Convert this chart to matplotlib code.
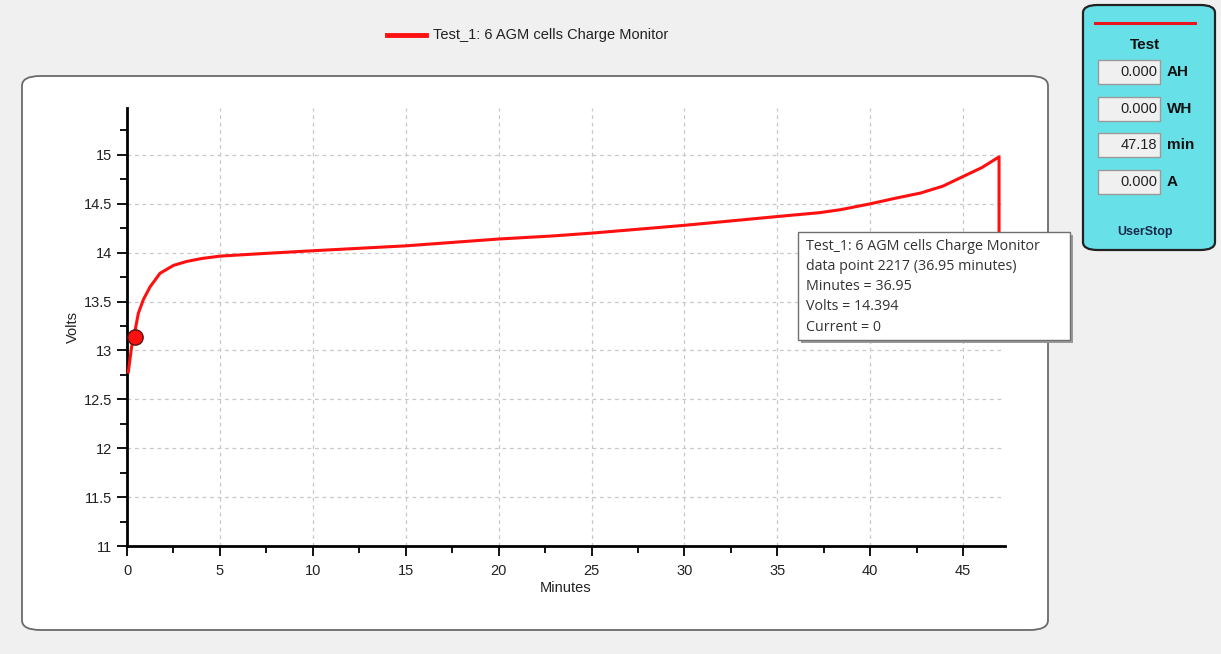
import matplotlib
matplotlib.use("Agg")
import matplotlib.pyplot as plt
from matplotlib.patches import FancyBboxPatch, Rectangle
from matplotlib.ticker import MultipleLocator, FormatStrFormatter
from matplotlib.lines import Line2D

# ---- data ----
minutes = [0.07, 0.25, 0.43, 0.61, 0.88, 1.24, 1.78, 2.5, 3.2, 4.0, 5.0, 7.2, 10.0, 15.0,
           20.0, 22.8, 25.0, 30.0, 35.0, 37.3, 38.4, 40.0, 41.3, 42.7, 43.9, 45.0, 46.0,
           46.93, 46.93]
volts = [12.78, 13.04, 13.2, 13.38, 13.52, 13.65, 13.79, 13.87, 13.91, 13.94, 13.965, 13.99,
         14.02, 14.07, 14.14, 14.17, 14.20, 14.28, 14.37, 14.41, 14.44, 14.50, 14.555, 14.61,
         14.68, 14.78, 14.87, 14.98, 13.4]
marker_min = [0.43]
marker_volts = [13.135]
series_name = "Test_1: 6 AGM cells Charge Monitor"
tooltip_lines = ["Test_1: 6 AGM cells Charge Monitor",
                 "data point 2217 (36.95 minutes)",
                 "Minutes = 36.95",
                 "Volts = 14.394",
                 "Current = 0"]
panel_values = ["0.000", "0.000", "47.18", "0.000"]
panel_units = ["AH", "WH", "min", "A"]

W, H = 1221, 654
fig = plt.figure(figsize=(W / 100, H / 100), dpi=100)
fig.patch.set_facecolor("#f0f0f0")

def fx(px):
    return px / W

def fy(py):
    return 1 - py / H

FONT = ["Liberation Sans", "DejaVu Sans"]
TFONT = ["Open Sans", "DejaVu Sans"]

# white rounded chart panel
panel = FancyBboxPatch((fx(22), fy(630)), fx(1048) - fx(22), fy(76) - fy(630),
                       boxstyle="round,pad=0,rounding_size=0.015", transform=fig.transFigure,
                       facecolor="white", edgecolor="#6a6a6a", linewidth=1.3, zorder=-2)
fig.patches.append(panel)

# right cyan panel
rp = FancyBboxPatch((fx(1083), fy(250)), fx(1215) - fx(1083), fy(5) - fy(250),
                    boxstyle="round,pad=0,rounding_size=0.012", transform=fig.transFigure,
                    facecolor="#68e0e8", edgecolor="#222222", linewidth=1.6, zorder=-2)
fig.patches.append(rp)
fig.lines.append(Line2D([fx(1095), fx(1195)], [fy(23), fy(23)], transform=fig.transFigure,
                        color="#e8141e", linewidth=2.2))
fig.text(fx(1145), fy(45), "Test", ha="center", va="center", fontsize=11, fontweight="bold",
         family=FONT, color="#111111")
field_y = [72, 109, 145, 182]
for yv, val, unit in zip(field_y, panel_values, panel_units):
    r = Rectangle((fx(1098), fy(yv + 12)), fx(1160) - fx(1098), fy(yv - 12) - fy(yv + 12),
                  transform=fig.transFigure, facecolor="#f0f0f0", edgecolor="#9a9a9a",
                  linewidth=1.0)
    fig.patches.append(r)
    fig.text(fx(1157), fy(yv), val, ha="right", va="center", fontsize=10.5, family=FONT,
             color="#222222")
    fig.text(fx(1167), fy(yv), unit, ha="left", va="center", fontsize=11, fontweight="bold",
             family=FONT, color="#111111")
fig.text(fx(1145), fy(232), "UserStop", ha="center", va="center", fontsize=9, fontweight="bold",
         family=FONT, color="#1a2a4a")

# axes
ax = fig.add_axes([fx(127), fy(546), fx(1005) - fx(127), fy(108) - fy(546)])
ax.set_zorder(1)
ax.patch.set_alpha(0)
ax.set_xlim(0, 47.25)
ax.set_ylim(11, 15.48)
ax.xaxis.set_major_locator(MultipleLocator(5))
ax.xaxis.set_minor_locator(MultipleLocator(2.5))
ax.yaxis.set_major_locator(MultipleLocator(0.5))
ax.yaxis.set_minor_locator(MultipleLocator(0.25))
ax.yaxis.set_major_formatter(FormatStrFormatter("%g"))
for s in ["top", "right"]:
    ax.spines[s].set_visible(False)
for s in ["left", "bottom"]:
    ax.spines[s].set_linewidth(2)
    ax.spines[s].set_color("black")
ax.tick_params(which="major", direction="out", length=7, width=1.3, labelsize=10.5,
               colors="black", labelcolor="#222222")
ax.tick_params(axis="x", which="major", pad=6)
ax.tick_params(which="minor", direction="out", length=5, width=1.3, colors="black")
for lab in ax.get_xticklabels() + ax.get_yticklabels():
    lab.set_family(FONT)
ax.grid(True, which="major", color="#c8c8c8", linestyle=(0, (3, 3)), linewidth=0.9)
ax.set_axisbelow(True)
ax.set_xlabel("Minutes", fontsize=10.5, family=FONT, labelpad=2, color="#222222")
ax.set_ylabel("Volts", fontsize=10.5, family=FONT, labelpad=3, color="#222222")

ax.plot(minutes, volts, color="#ff1010", linewidth=2.2, zorder=3, clip_on=False)
ax.plot(marker_min, marker_volts, "o", color="#ff1010", markeredgecolor="#551111",
        markersize=11, markeredgewidth=1.0, zorder=4, clip_on=False)

# tooltip
sh = Rectangle((fx(801), fy(343)), fx(1073) - fx(801), fy(235) - fy(343),
               transform=fig.transFigure, facecolor="#9a9a9a", edgecolor="none", zorder=8)
fig.patches.append(sh)
tb = Rectangle((fx(798), fy(340)), fx(1070) - fx(798), fy(232) - fy(340),
               transform=fig.transFigure, facecolor="white", edgecolor="#707070",
               linewidth=1.0, zorder=9)
fig.patches.append(tb)
for i, line in enumerate(tooltip_lines):
    fig.text(fx(806), fy(246 + 20.3 * i), line, ha="left", va="center", fontsize=10.3,
             family=TFONT, color="#333333", zorder=10)

# legend at top
fig.lines.append(Line2D([fx(387), fx(426)], [fy(35), fy(35)], transform=fig.transFigure,
                        color="#ff1010", linewidth=3.5))
fig.text(fx(433), fy(35), series_name, ha="left", va="center", fontsize=10.5, family=FONT,
         color="#222222")

fig.savefig("out.png", dpi=100, facecolor=fig.get_facecolor())
